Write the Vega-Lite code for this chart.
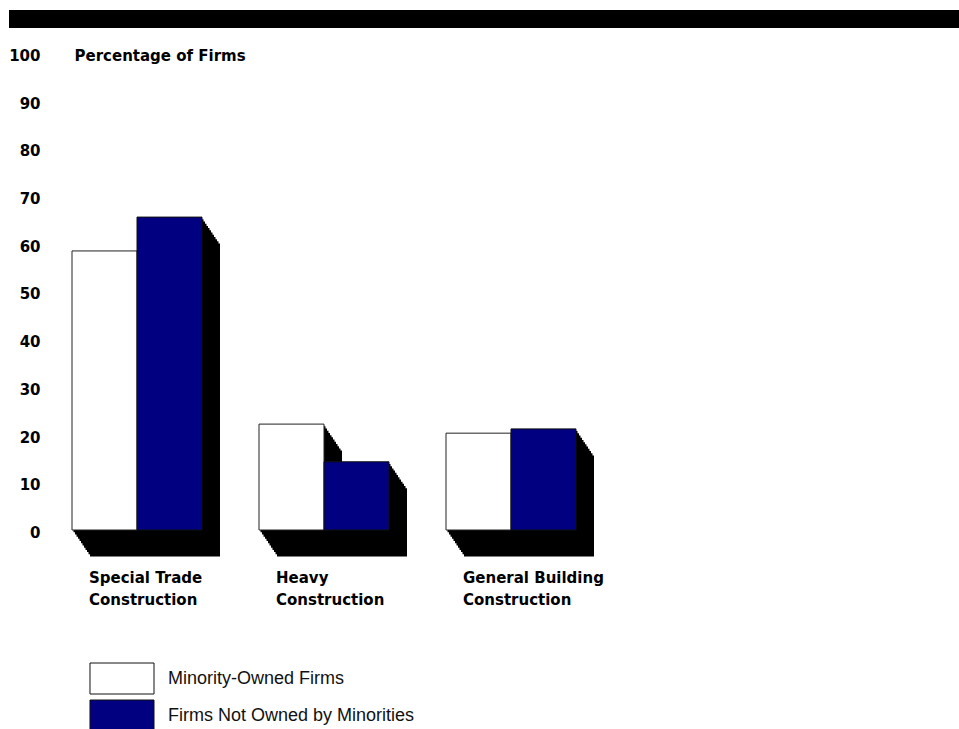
{
  "$schema": "https://vega.github.io/schema/vega-lite/v6.json",
  "width": 950,
  "height": 530,
  "autosize": {"type": "none"},
  "padding": {"left": 9, "top": 0, "right": 0, "bottom": 199},
  "background": "white",
  "config": {"view": {"stroke": null}},
  "data": {"values": [
    {"c": "Special Trade Construction", "s": "Minority-Owned Firms", "v": 58.5},
    {"c": "Special Trade Construction", "s": "Firms Not Owned by Minorities", "v": 65.6},
    {"c": "Heavy Construction", "s": "Minority-Owned Firms", "v": 22.2},
    {"c": "Heavy Construction", "s": "Firms Not Owned by Minorities", "v": 14.3},
    {"c": "General Building Construction", "s": "Minority-Owned Firms", "v": 20.3},
    {"c": "General Building Construction", "s": "Firms Not Owned by Minorities", "v": 21.2}
  ]},
  "layer": [
    {
      "data": {"values": [{"band": "top"}]},
      "mark": {"type": "rule", "color": "black", "strokeWidth": 18},
      "encoding": {"y": {"datum": 107.13, "type": "quantitative",
          "scale": {"domain": [0, 111.11], "nice": false},
          "axis": {"title": "Percentage of Firms", "titleAngle": 0, "titleAlign": "left", "titleBaseline": "alphabetic", "titleX": 34, "titleY": 60, "titleFont": "DejaVu Sans", "titleFontSize": 15, "titleFontWeight": "bold", "titleColor": "black",
            "orient": "left", "offset": -31, "domain": false, "ticks": false, "tickSize": 0, "labelPadding": 0, "grid": false,
            "values": [0, 10, 20, 30, 40, 50, 60, 70, 80, 90, 100],
            "labelFont": "DejaVu Sans", "labelFontSize": 15, "labelFontWeight": "bold", "labelColor": "black", "labelBaseline": "alphabetic", "labelOffset": 7.5}}}
    },
    {
      "encoding": {
        "x": {"field": "c", "type": "nominal",
          "scale": {"domain": ["Special Trade Construction", "Heavy Construction", "General Building Construction"], "range": [34.5, 595.5], "paddingInner": 0, "paddingOuter": 0},
          "axis": {"title": null, "orient": "bottom", "domain": false, "ticks": false, "tickSize": 0, "grid": false, "labelPadding": 40, "labelBaseline": "top", "labelAlign": "left", "labelOffset": -48, "labelFont": "DejaVu Sans", "labelFontSize": 15, "labelFontWeight": "bold", "labelColor": "black", "labelLineHeight": 22, "labelLimit": 300, "labelAngle": 0,
            "labelExpr": "[slice(datum.label, 0, length(datum.label) - 13), 'Construction']"}},
        "y": {"field": "v", "type": "quantitative",
          "scale": {"domain": [0, 111.11], "nice": false},
          "axis": {"title": "Percentage of Firms", "titleAngle": 0, "titleAlign": "left", "titleBaseline": "alphabetic", "titleX": 34, "titleY": 60, "titleFont": "DejaVu Sans", "titleFontSize": 15, "titleFontWeight": "bold", "titleColor": "black",
            "orient": "left", "offset": -31, "domain": false, "ticks": false, "tickSize": 0, "labelPadding": 0, "grid": false,
            "values": [0, 10, 20, 30, 40, 50, 60, 70, 80, 90, 100],
            "labelFont": "DejaVu Sans", "labelFontSize": 15, "labelFontWeight": "bold", "labelColor": "black", "labelBaseline": "alphabetic", "labelOffset": 7.5}}
      },
      "layer": [
        {"transform": [{"filter": "datum.s === 'Minority-Owned Firms'"}], "mark": {"type": "bar", "width": 65, "xOffset": -31, "yOffset": 2.21, "fill": "black", "strokeWidth": 0}},
        {"transform": [{"filter": "datum.s === 'Minority-Owned Firms'"}], "mark": {"type": "bar", "width": 65, "xOffset": -29.5, "yOffset": 4.42, "fill": "black", "strokeWidth": 0}},
        {"transform": [{"filter": "datum.s === 'Minority-Owned Firms'"}], "mark": {"type": "bar", "width": 65, "xOffset": -28, "yOffset": 6.63, "fill": "black", "strokeWidth": 0}},
        {"transform": [{"filter": "datum.s === 'Minority-Owned Firms'"}], "mark": {"type": "bar", "width": 65, "xOffset": -26.5, "yOffset": 8.83, "fill": "black", "strokeWidth": 0}},
        {"transform": [{"filter": "datum.s === 'Minority-Owned Firms'"}], "mark": {"type": "bar", "width": 65, "xOffset": -25, "yOffset": 11.04, "fill": "black", "strokeWidth": 0}},
        {"transform": [{"filter": "datum.s === 'Minority-Owned Firms'"}], "mark": {"type": "bar", "width": 65, "xOffset": -23.5, "yOffset": 13.25, "fill": "black", "strokeWidth": 0}},
        {"transform": [{"filter": "datum.s === 'Minority-Owned Firms'"}], "mark": {"type": "bar", "width": 65, "xOffset": -22, "yOffset": 15.46, "fill": "black", "strokeWidth": 0}},
        {"transform": [{"filter": "datum.s === 'Minority-Owned Firms'"}], "mark": {"type": "bar", "width": 65, "xOffset": -20.5, "yOffset": 17.67, "fill": "black", "strokeWidth": 0}},
        {"transform": [{"filter": "datum.s === 'Minority-Owned Firms'"}], "mark": {"type": "bar", "width": 65, "xOffset": -19, "yOffset": 19.88, "fill": "black", "strokeWidth": 0}},
        {"transform": [{"filter": "datum.s === 'Minority-Owned Firms'"}], "mark": {"type": "bar", "width": 65, "xOffset": -17.5, "yOffset": 22.08, "fill": "black", "strokeWidth": 0}},
        {"transform": [{"filter": "datum.s === 'Minority-Owned Firms'"}], "mark": {"type": "bar", "width": 65, "xOffset": -16, "yOffset": 24.29, "fill": "black", "strokeWidth": 0}},
        {"transform": [{"filter": "datum.s === 'Minority-Owned Firms'"}], "mark": {"type": "bar", "width": 65, "xOffset": -14.5, "yOffset": 26.5, "fill": "black", "strokeWidth": 0}},
        {"transform": [{"filter": "datum.s === 'Firms Not Owned by Minorities'"}], "mark": {"type": "bar", "width": 65, "xOffset": 34, "yOffset": 2.21, "fill": "black", "strokeWidth": 0}},
        {"transform": [{"filter": "datum.s === 'Firms Not Owned by Minorities'"}], "mark": {"type": "bar", "width": 65, "xOffset": 35.5, "yOffset": 4.42, "fill": "black", "strokeWidth": 0}},
        {"transform": [{"filter": "datum.s === 'Firms Not Owned by Minorities'"}], "mark": {"type": "bar", "width": 65, "xOffset": 37, "yOffset": 6.63, "fill": "black", "strokeWidth": 0}},
        {"transform": [{"filter": "datum.s === 'Firms Not Owned by Minorities'"}], "mark": {"type": "bar", "width": 65, "xOffset": 38.5, "yOffset": 8.83, "fill": "black", "strokeWidth": 0}},
        {"transform": [{"filter": "datum.s === 'Firms Not Owned by Minorities'"}], "mark": {"type": "bar", "width": 65, "xOffset": 40, "yOffset": 11.04, "fill": "black", "strokeWidth": 0}},
        {"transform": [{"filter": "datum.s === 'Firms Not Owned by Minorities'"}], "mark": {"type": "bar", "width": 65, "xOffset": 41.5, "yOffset": 13.25, "fill": "black", "strokeWidth": 0}},
        {"transform": [{"filter": "datum.s === 'Firms Not Owned by Minorities'"}], "mark": {"type": "bar", "width": 65, "xOffset": 43, "yOffset": 15.46, "fill": "black", "strokeWidth": 0}},
        {"transform": [{"filter": "datum.s === 'Firms Not Owned by Minorities'"}], "mark": {"type": "bar", "width": 65, "xOffset": 44.5, "yOffset": 17.67, "fill": "black", "strokeWidth": 0}},
        {"transform": [{"filter": "datum.s === 'Firms Not Owned by Minorities'"}], "mark": {"type": "bar", "width": 65, "xOffset": 46, "yOffset": 19.88, "fill": "black", "strokeWidth": 0}},
        {"transform": [{"filter": "datum.s === 'Firms Not Owned by Minorities'"}], "mark": {"type": "bar", "width": 65, "xOffset": 47.5, "yOffset": 22.08, "fill": "black", "strokeWidth": 0}},
        {"transform": [{"filter": "datum.s === 'Firms Not Owned by Minorities'"}], "mark": {"type": "bar", "width": 65, "xOffset": 49, "yOffset": 24.29, "fill": "black", "strokeWidth": 0}},
        {"transform": [{"filter": "datum.s === 'Firms Not Owned by Minorities'"}], "mark": {"type": "bar", "width": 65, "xOffset": 50.5, "yOffset": 26.5, "fill": "black", "strokeWidth": 0}},
        {"transform": [{"filter": "datum.s === 'Minority-Owned Firms'"}],
         "mark": {"type": "bar", "width": 65, "xOffset": -32.5, "stroke": "#222222", "strokeWidth": 1},
         "encoding": {"color": {"field": "s", "type": "nominal",
           "scale": {"domain": ["Minority-Owned Firms", "Firms Not Owned by Minorities"], "range": ["#ffffff", "#000080"]},
           "legend": {"title": null, "orient": "none", "legendX": 97, "legendY": 662.5, "direction": "vertical",
             "symbolType": "M-2.065,-1H2.065V1H-2.065Z", "symbolSize": 961, "symbolStrokeColor": "#111111", "symbolStrokeWidth": 1, "symbolOpacity": 1,
             "labelFont": "Liberation Sans", "labelFontSize": 18, "labelColor": "#111111", "labelOffset": 30, "rowPadding": 1, "padding": 0, "labelLimit": 400}}}},
        {"transform": [{"filter": "datum.s === 'Firms Not Owned by Minorities'"}],
         "mark": {"type": "bar", "width": 65, "xOffset": 32.5, "stroke": "#111111", "strokeWidth": 1},
         "encoding": {"color": {"field": "s", "type": "nominal"}}}
      ]
    }
  ]
}
